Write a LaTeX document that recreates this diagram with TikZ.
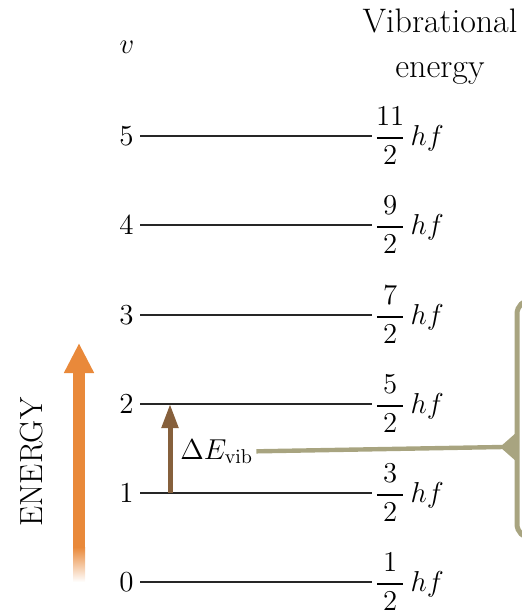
\documentclass[tikz,border=0pt]{standalone}
\usepackage{amsmath,amssymb}
\usepackage{xcolor}
\usepackage{tikz}
\usetikzlibrary{arrows.meta,positioning}

\definecolor{energyorange}{RGB}{233,137,58}
\definecolor{vibbrown}{RGB}{134,96,60}
\definecolor{calloutkhaki}{RGB}{168,164,128}

% half-integer level energy, numerator boxed to a common width
\newcommand{\halfhf}[1]{$\dfrac{\makebox[0.95em]{$#1$}}{2}\,hf$}

\begin{document}
\begin{tikzpicture}[
    x=0.5pt, y=-0.5pt,
    num/.style={anchor=east, inner sep=3pt, font=\fontsize{14.5}{16}\selectfont},
    lab/.style={anchor=west, inner sep=1pt, font=\fontsize{14}{16}\selectfont},
    level/.style={line width=1pt, black!85},
    energyarrow/.style={-{Triangle[width=14pt, length=15pt]}, line width=6pt, energyorange},
    vibarrow/.style={-{Triangle[width=8pt, length=12pt]}, line width=2.5pt, vibbrown},
    callout/.style={line width=2.5pt, calloutkhaki}
]
\useasboundingbox (0,0) rectangle (522,611);
\clip (0,0) rectangle (522,611);

% column heads
\node[font=\fontsize{15}{16}\selectfont] (vhead) at (127,47) {$v$};
\node[align=center, font=\fontsize{17}{22.5}\selectfont] (ehead) at (440,47) {Vibrational\\energy};

% quantum numbers
\node[num] (n5) at (140,136) {5};
\node[num] (n4) at (140,225) {4};
\node[num] (n3) at (140,315) {3};
\node[num] (n2) at (140,404) {2};
\node[num] (n1) at (140,493) {1};
\node[num] (n0) at (140,582) {0};

% energies
\node[lab] (e5) at (372,136) {\halfhf{11}};
\node[lab] (e4) at (372,225) {\halfhf{9}};
\node[lab] (e3) at (372,315) {\halfhf{7}};
\node[lab] (e2) at (372,404) {\halfhf{5}};
\node[lab] (e1) at (372,493) {\halfhf{3}};
\node[lab] (e0) at (372,582) {\halfhf{1}};

\draw[level] (n5.east) -- (e5.west);
\draw[level] (n4.east) -- (e4.west);
\draw[level] (n3.east) -- (e3.west);
\draw[level] (n2.east) -- (e2.west);
\draw[level] (n1.east) -- (e1.west);
\draw[level] (n0.east) -- (e0.west);

% energy axis
\node[rotate=90, font=\fontsize{16}{18}\selectfont] (elabel) at (32,462) {ENERGY};
\coordinate (ebot) at (79,548);
\coordinate (etop) at (79,343);
\shade[top color=energyorange, bottom color=white] (73,547) rectangle (85,582);
\draw[energyarrow] (ebot) -- (etop);

% transition 1 -> 2
\coordinate (v1) at (170,493);
\coordinate (v2) at (170,404);
\draw[vibarrow] (v1) -- (v2);
\node[anchor=base west, inner sep=1.5pt, font=\fontsize{14}{16}\selectfont] (dE) at (177,459) {$\Delta E_{\mathrm{vib}}$};

% callout
\coordinate (ktip) at (503,447);
\draw[callout, line width=2.2pt] (dE.east) -- (ktip);
\fill[calloutkhaki] (517,432) -- (500,447) -- (517,462) -- cycle;
\draw[callout, rounded corners=7pt] (535,300) -- (517,300) -- (517,538) -- (535,538);
\end{tikzpicture}
\end{document}
